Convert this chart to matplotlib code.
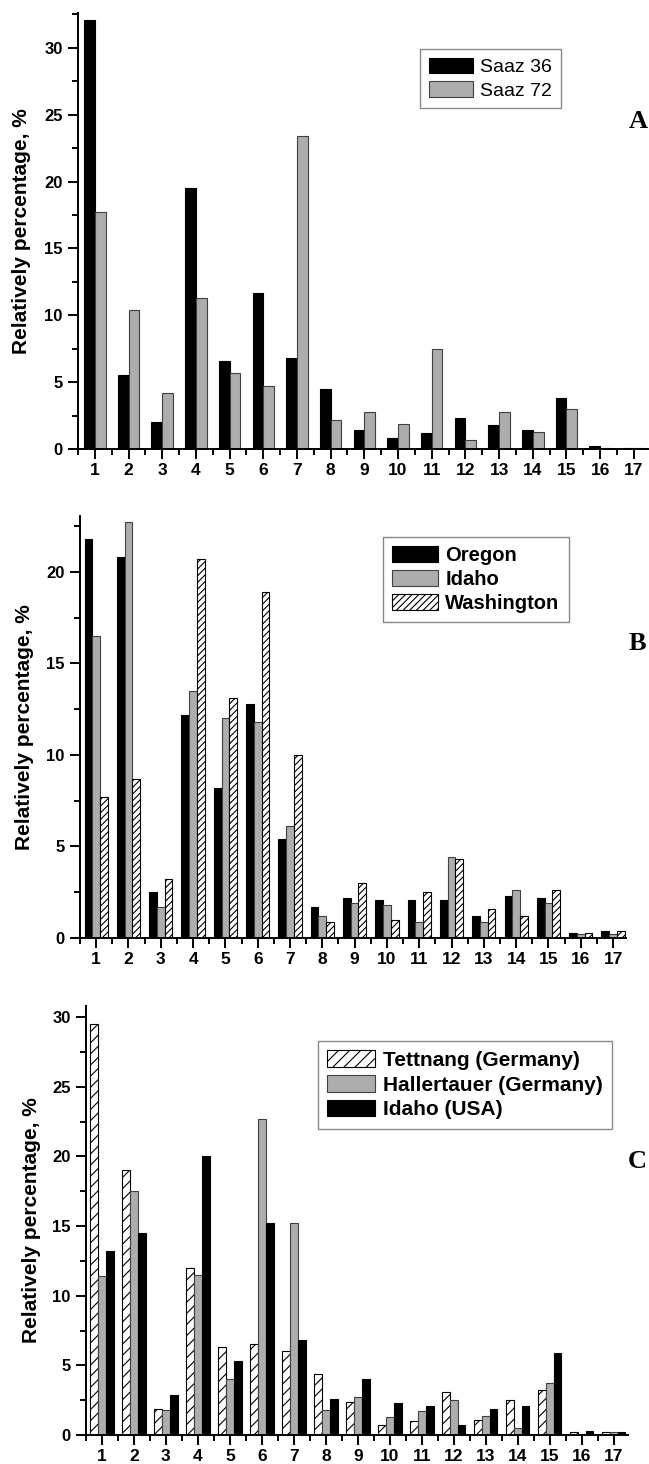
import numpy as np
import matplotlib
matplotlib.use("Agg")
import matplotlib.pyplot as plt
from matplotlib.ticker import MultipleLocator, FixedLocator

plt.rcParams['font.family'] = ['Liberation Sans', 'DejaVu Sans']
plt.rcParams['font.weight'] = 'bold'
plt.rcParams['hatch.linewidth'] = 0.8

peaks = np.arange(1, 18)

# panel A
saaz36 = [32.1, 5.5, 2.0, 19.5, 6.6, 11.7, 6.8, 4.5, 1.4, 0.8, 1.2, 2.3, 1.8, 1.4, 3.8, 0.2, 0.1]
saaz72 = [17.7, 10.4, 4.2, 11.3, 5.7, 4.7, 23.4, 2.2, 2.8, 1.9, 7.5, 0.7, 2.8, 1.3, 3.0, 0.1, 0.1]

# panel B
oregon = [21.8, 20.8, 2.5, 12.2, 8.2, 12.8, 5.4, 1.7, 2.2, 2.1, 2.1, 2.1, 1.2, 2.3, 2.2, 0.3, 0.4]
idaho_b = [16.5, 22.7, 1.7, 13.5, 12.0, 11.8, 6.1, 1.2, 1.9, 1.8, 0.9, 4.4, 0.9, 2.6, 1.9, 0.2, 0.2]
washington = [7.7, 8.7, 3.2, 20.7, 13.1, 18.9, 10.0, 0.9, 3.0, 1.0, 2.5, 4.3, 1.6, 1.2, 2.6, 0.3, 0.4]

# panel C
tettnang = [29.5, 19.0, 1.9, 12.0, 6.3, 6.5, 6.0, 4.4, 2.4, 0.7, 1.0, 3.1, 1.1, 2.5, 3.2, 0.2, 0.2]
hallertauer = [11.4, 17.5, 1.8, 11.5, 4.0, 22.7, 15.2, 1.8, 2.7, 1.3, 1.7, 2.5, 1.4, 0.5, 3.7, 0.1, 0.2]
idaho_c = [13.2, 14.5, 2.9, 20.0, 5.3, 15.2, 6.8, 2.6, 4.0, 2.3, 2.1, 0.7, 1.9, 2.1, 5.9, 0.3, 0.2]

GRAY = '#adadad'
W, H = 649, 1464

fig = plt.figure(figsize=(W / 100, H / 100), dpi=100)


def px_axes(left, right, top, bottom):
    return fig.add_axes([left / W, 1 - bottom / H, (right - left) / W, (bottom - top) / H])


def style(ax, ymax, xmax, label_x):
    ax.set_xlim(0.5, xmax)
    ax.set_ylim(0, ymax)
    for s in ['top', 'right']:
        ax.spines[s].set_visible(False)
    for s in ['left', 'bottom']:
        ax.spines[s].set_linewidth(1.4)
    ax.xaxis.set_major_locator(FixedLocator(peaks))
    ax.xaxis.set_minor_locator(FixedLocator(np.arange(0.5, 18, 1)))
    ax.yaxis.set_major_locator(MultipleLocator(5))
    ax.yaxis.set_minor_locator(MultipleLocator(2.5))
    ax.tick_params(axis='both', which='major', direction='out', length=7, width=1.4)
    ax.tick_params(axis='both', which='minor', direction='out', length=4.5, width=1.4)
    ax.tick_params(axis='x', which='major', labelsize=12.5, pad=3)
    ax.tick_params(axis='y', which='major', labelsize=12, pad=4)
    ax.set_ylabel('Relatively percentage, %', fontsize=15, fontweight='bold')
    ax.yaxis.set_label_coords(label_x, 0.5)


def legend(ax, handles, labels, x, y, weight, size):
    leg = ax.legend(handles, labels, loc='upper left',
                    bbox_to_anchor=(x / W, 1 - y / H), bbox_transform=fig.transFigure,
                    borderaxespad=0, fancybox=False, framealpha=1,
                    handlelength=2.3, handleheight=0.85, handletextpad=0.35,
                    labelspacing=0.25, borderpad=0.45,
                    prop={'size': size, 'weight': weight})
    leg.get_frame().set_edgecolor('#888888')
    leg.get_frame().set_linewidth(1.0)


# --- A ---
axA = px_axes(78, 649, 13, 449)
w = 0.32
b1 = axA.bar(peaks - w / 2, saaz36, w, color='black', edgecolor='black', linewidth=0.8)
b2 = axA.bar(peaks + w / 2, saaz72, w, color=GRAY, edgecolor='#404040', linewidth=0.8)
style(axA, 32.6, 17.45, -0.082)
legend(axA, [b1, b2], ['Saaz 36', 'Saaz 72'], 420, 49, 'normal', 14)

# --- B ---
axB = px_axes(80, 626, 516, 938)
w = 0.24
b1 = axB.bar(peaks - w, oregon, w, color='black', edgecolor='black', linewidth=0.8)
b2 = axB.bar(peaks, idaho_b, w, color=GRAY, edgecolor='#404040', linewidth=0.8)
b3 = axB.bar(peaks + w, washington, w, color='white', edgecolor='black', linewidth=0.8, hatch='/////')
style(axB, 23.05, 17.4, -0.085)
legend(axB, [b1, b2, b3], ['Oregon', 'Idaho', 'Washington'], 383, 537, 'bold', 14.5)

# --- C ---
axC = px_axes(86, 628, 1006, 1435)
w = 0.245
b1 = axC.bar(peaks - w, tettnang, w, color='white', edgecolor='black', linewidth=0.8, hatch='///')
b2 = axC.bar(peaks, hallertauer, w, color=GRAY, edgecolor='#404040', linewidth=0.8)
b3 = axC.bar(peaks + w, idaho_c, w, color='black', edgecolor='black', linewidth=0.8)
style(axC, 30.8, 17.45, -0.083)
legend(axC, [b1, b2, b3], ['Tettnang (Germany)', 'Hallertauer (Germany)', 'Idaho (USA)'], 318, 1041, 'bold', 15)

for letter, (x, y) in zip('ABC', [(638, 122), (637, 643), (637, 1161)]):
    fig.text(x / W, 1 - y / H, letter, ha='center', va='center',
             family=['Liberation Serif', 'DejaVu Serif'], fontweight='bold', fontsize=19)

fig.savefig('out.png', dpi=100)
